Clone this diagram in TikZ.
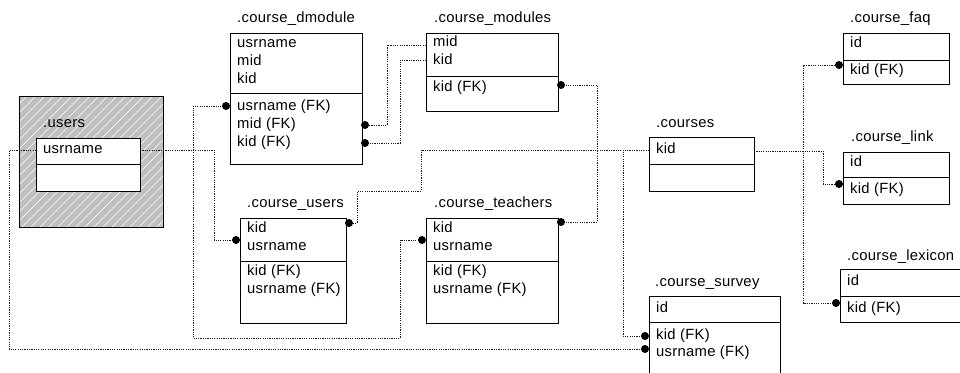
\documentclass[tikz,border=0pt]{standalone}
\usepackage{fontspec}
\setmainfont{Liberation Sans}[LetterSpace=2]
\definecolor{hatch}{HTML}{C0C0C0}
\begin{document}
\begin{tikzpicture}[x=1pt,y=-1pt,
  tbl/.style={draw=black, line width=1pt, fill=white, inner sep=0pt, anchor=north west},
  lbl/.style={anchor=west, inner sep=0pt, font=\fontsize{14.8}{16}\selectfont, text height=10pt, text depth=3pt},
  rel/.style={draw=black!90, line width=0.9pt, dash pattern=on 1.2pt off 1.1pt},
  divl/.style={line width=1pt},
  fkdot/.style={fill=black}]
\clip (0,0) rectangle (960,372);
\fill[white] (0,0) rectangle (960,372);

% ---------- users (hatched entity) ----------
\fill[hatch] (19,96) rectangle (163,227);
\begin{scope}
  \clip (19,96) rectangle (163,227);
  \foreach \k in {-150,-141,...,160} \draw[white, line width=0.6pt] (19+\k,227) -- ++(150,-150);
\end{scope}
\node[draw=black, line width=1pt, inner sep=0pt, anchor=north west, minimum width=144pt, minimum height=131pt] (usersbg) at (19,96) {};
\node[tbl, minimum width=104pt, minimum height=53pt] (users) at (36,138) {};
\draw[divl] (36,164) -- (140,164);
\node[lbl] (users-t) at (43,124) {.users};
\node[lbl] (users-1) at (43,150) {usrname};

% ---------- course_dmodule ----------
\node[tbl, minimum width=132pt, minimum height=131pt] (dmod) at (230,33) {};
\draw[divl] (230,93) -- (362,93);
\node[lbl] (dmod-t) at (237,19) {.course\_dmodule};
\node[lbl] (dmod-1) at (237,44) {usrname};
\node[lbl] (dmod-2) at (237,62) {mid};
\node[lbl] (dmod-3) at (237,80) {kid};
\node[lbl] (dmod-4) at (237,107) {usrname (FK)};
\node[lbl] (dmod-5) at (237,125) {mid (FK)};
\node[lbl] (dmod-6) at (237,143) {kid (FK)};

% ---------- course_modules ----------
\node[tbl, minimum width=132pt, minimum height=78pt] (mods) at (426,33) {};
\draw[divl] (426,76) -- (558,76);
\node[lbl] (mods-t) at (434,19) {.course\_modules};
\node[lbl] (mods-1) at (433,43) {mid};
\node[lbl] (mods-2) at (433,61) {kid};
\node[lbl] (mods-3) at (433,88) {kid (FK)};

% ---------- course_users ----------
\node[tbl, minimum width=106pt, minimum height=105pt] (cusr) at (240,218) {};
\draw[divl] (240,261) -- (346,261);
\node[lbl] (cusr-t) at (247,204) {.course\_users};
\node[lbl] (cusr-1) at (247,229) {kid};
\node[lbl] (cusr-2) at (247,247) {usrname};
\node[lbl] (cusr-3) at (247,272) {kid (FK)};
\node[lbl] (cusr-4) at (247,290) {usrname (FK)};

% ---------- course_teachers ----------
\node[tbl, minimum width=132pt, minimum height=105pt] (ctea) at (426,218) {};
\draw[divl] (426,261) -- (558,261);
\node[lbl] (ctea-t) at (434,204) {.course\_teachers};
\node[lbl] (ctea-1) at (433,229) {kid};
\node[lbl] (ctea-2) at (433,247) {usrname};
\node[lbl] (ctea-3) at (433,272) {kid (FK)};
\node[lbl] (ctea-4) at (433,290) {usrname (FK)};

% ---------- courses ----------
\node[tbl, minimum width=105pt, minimum height=54pt] (crs) at (649,137) {};
\draw[divl] (649,164) -- (754,164);
\node[lbl] (crs-t) at (656,124) {.courses};
\node[lbl] (crs-1) at (656,150) {kid};

% ---------- course_survey ----------
\node[tbl, minimum width=131pt, minimum height=94pt] (csur) at (649,296) {};
\draw[divl] (649,322) -- (780,322);
\node[lbl] (csur-t) at (655,283) {.course\_survey};
\node[lbl] (csur-1) at (656,309) {id};
\node[lbl] (csur-2) at (656,336) {kid (FK)};
\node[lbl] (csur-3) at (656,353) {usrname (FK)};

% ---------- course_faq ----------
\node[tbl, minimum width=106pt, minimum height=51pt] (cfaq) at (843,33) {};
\draw[divl] (843,60) -- (949,60);
\node[lbl] (cfaq-t) at (850,19) {.course\_faq};
\node[lbl] (cfaq-1) at (850,44) {id};
\node[lbl] (cfaq-2) at (850,71) {kid (FK)};

% ---------- course_link ----------
\node[tbl, minimum width=106pt, minimum height=52pt] (clnk) at (843,152) {};
\draw[divl] (843,177) -- (949,177);
\node[lbl] (clnk-t) at (851,138) {.course\_link};
\node[lbl] (clnk-1) at (850,163) {id};
\node[lbl] (clnk-2) at (850,190) {kid (FK)};

% ---------- course_lexicon ----------
\node[tbl, minimum width=126pt, minimum height=53pt] (clex) at (840,269) {};
\draw[divl] (840,296) -- (966,296);
\node[lbl] (clex-t) at (847,257) {.course\_lexicon};
\node[lbl] (clex-1) at (847,282) {id};
\node[lbl] (clex-2) at (847,309) {kid (FK)};

% ---------- connector end points ----------
\coordinate (usr-r) at (140,150);
\coordinate (usr-l) at (36,150);
\coordinate (crs-l) at (649,150);
\coordinate (crs-r) at (754,151);
\coordinate (mods-mid) at (426,45);
\coordinate (mods-kid) at (426,60);
\coordinate (d-dmod-usr) at (226,106);
\coordinate (d-dmod-mid) at (365,125);
\coordinate (d-dmod-kid) at (365,143);
\coordinate (d-mods-kid) at (561,85);
\coordinate (d-cusr-usr) at (236,240);
\coordinate (d-cusr-kid) at (349,223);
\coordinate (d-ctea-usr) at (422,240);
\coordinate (d-ctea-kid) at (561,222);
\coordinate (d-csur-kid) at (645,336);
\coordinate (d-csur-usr) at (645,349);
\coordinate (d-cfaq) at (839,65);
\coordinate (d-clnk) at (839,184);
\coordinate (d-clex) at (836,303);

% ---------- connectors (drawn from the shared end so dashes line up) ----------
\draw[rel] (usr-r) -- (193,150) -- (193,106) -- (d-dmod-usr);
\draw[rel] (usr-r) -- (193,150) -- (193,338) -- (400,338) -- (400,240) -- (d-ctea-usr);
\draw[rel] (usr-r) -- (214,150) -- (214,240) -- (d-cusr-usr);
\draw[rel] (usr-l) -- (9,150) -- (9,349) -- (d-csur-usr);
\draw[rel] (mods-mid) -- (387,45) -- (387,125) -- (d-dmod-mid);
\draw[rel] (mods-kid) -- (400,60) -- (400,143) -- (d-dmod-kid);
\draw[rel] (crs-l) -- (597,150) -- (597,85) -- (d-mods-kid);
\draw[rel] (crs-l) -- (597,150) -- (597,222) -- (d-ctea-kid);
\draw[rel] (crs-l) -- (421,150) -- (421,191) -- (357,191) -- (357,223) -- (d-cusr-kid);
\draw[rel] (crs-l) -- (623,150) -- (623,336) -- (d-csur-kid);
\draw[rel] (crs-r) -- (803,151) -- (803,65) -- (d-cfaq);
\draw[rel] (crs-r) -- (823,151) -- (823,184) -- (d-clnk);
\draw[rel] (crs-r) -- (803,151) -- (803,303) -- (d-clex);

% ---------- FK dots ----------
\foreach \p in {d-dmod-usr,d-dmod-mid,d-dmod-kid,d-mods-kid,d-cusr-usr,d-cusr-kid,d-ctea-usr,d-ctea-kid,d-csur-kid,d-csur-usr,d-cfaq,d-clnk,d-clex}
  \fill[fkdot] (\p) circle (4pt);
\end{tikzpicture}
\end{document}
